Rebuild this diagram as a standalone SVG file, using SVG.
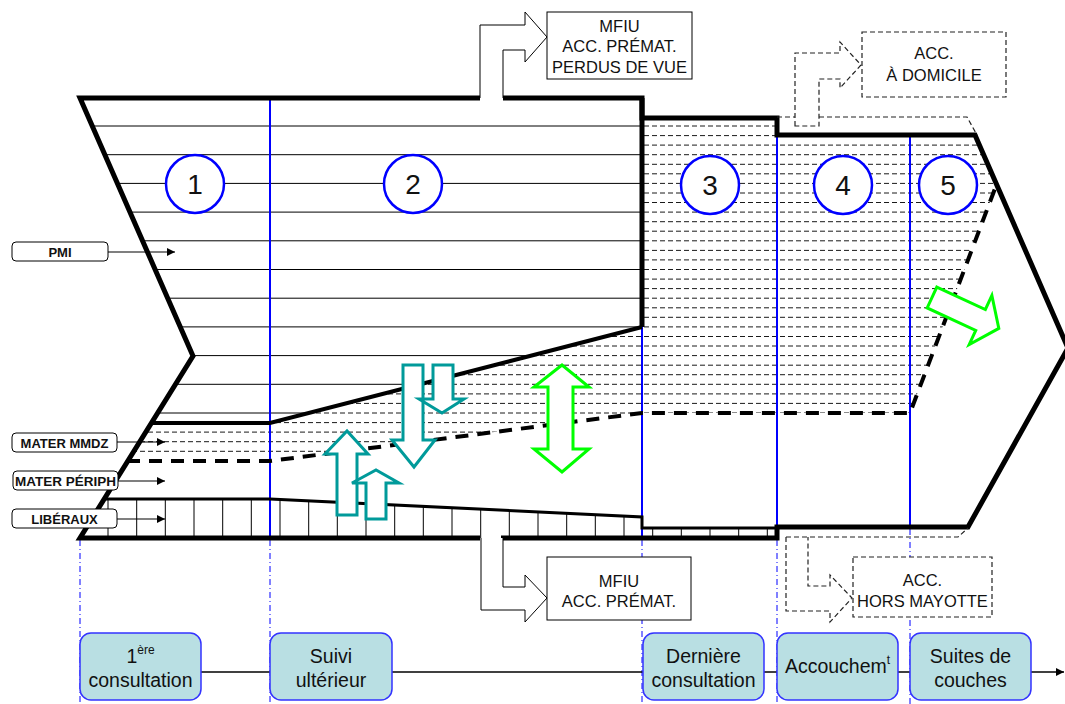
<svg xmlns="http://www.w3.org/2000/svg" width="1065" height="704" viewBox="0 0 1065 704">
<style>
text{font-family:"Liberation Sans",Arial,sans-serif;fill:#111}
.hs{stroke:#000;stroke-width:1}
.hd{stroke:#1a1a1a;stroke-width:1;stroke-dasharray:5,3}
.thick{fill:none;stroke:#000;stroke-width:5;stroke-linejoin:miter}
.blue{stroke:#0000ff;stroke-width:2}
.bdd{stroke:#0000ff;stroke-width:1;stroke-dasharray:6,3,1,3}
.circ{fill:#fff;stroke:#0000ff;stroke-width:2.5}
.num{font-size:28px;text-anchor:middle}
.lab{fill:#fff;stroke:#000;stroke-width:1}
.labt{font-size:13px;font-weight:bold;text-anchor:middle}
.teal{fill:#fff;stroke:#009a9a;stroke-width:3}
.green{fill:#fff;stroke:#00ff00;stroke-width:3}
.box{fill:#fff;stroke:#000;stroke-width:1}
.dbox{fill:#fff;stroke:#222;stroke-width:1.2;stroke-dasharray:5,3}
.dline{fill:none;stroke:#222;stroke-width:1.2;stroke-dasharray:5,3}
.bt{font-size:16.5px;text-anchor:middle}
.phase{fill:#b9dfe3;stroke:#3333ff;stroke-width:1.5}
.pt{font-size:19.5px;text-anchor:middle}
</style>
<defs>
<clipPath id="zA"><polygon points="80,98 642,98 642,327 270,423 151,423 193,356"/></clipPath>
<clipPath id="zB"><polygon points="151,423 270,423 642,327 642,118 777,118 777,135 975,135 996,186 910,413 642,413 270,461 127,461"/></clipPath>
<clipPath id="zC"><polygon points="104,499 270,499 642,517 642,528 777,528 777,538 80,538"/></clipPath>
<marker id="ah" viewBox="0 0 10 10" refX="10" refY="5" markerWidth="9" markerHeight="8" markerUnits="userSpaceOnUse" orient="auto"><path d="M0,0 L10,5 L0,10 Z" fill="#000"/></marker>
</defs>

<g id="hatching">
<g clip-path="url(#zA)" class="hs">
<line x1="60" x2="650" y1="126" y2="126"/><line x1="60" x2="650" y1="154.7" y2="154.7"/><line x1="60" x2="650" y1="183.4" y2="183.4"/><line x1="60" x2="650" y1="212.1" y2="212.1"/><line x1="60" x2="650" y1="240.8" y2="240.8"/><line x1="60" x2="650" y1="269.5" y2="269.5"/><line x1="60" x2="650" y1="298.2" y2="298.2"/><line x1="60" x2="650" y1="326.9" y2="326.9"/><line x1="60" x2="650" y1="355.6" y2="355.6"/><line x1="60" x2="650" y1="384.3" y2="384.3"/><line x1="60" x2="650" y1="413" y2="413"/>
</g>
<g clip-path="url(#zB)" class="hd">
<line x1="100" x2="1010" y1="126" y2="126"/><line x1="100" x2="1010" y1="135.6" y2="135.6"/><line x1="100" x2="1010" y1="145.1" y2="145.1"/><line x1="100" x2="1010" y1="154.7" y2="154.7"/><line x1="100" x2="1010" y1="164.3" y2="164.3"/><line x1="100" x2="1010" y1="173.8" y2="173.8"/><line x1="100" x2="1010" y1="183.4" y2="183.4"/><line x1="100" x2="1010" y1="193" y2="193"/><line x1="100" x2="1010" y1="202.5" y2="202.5"/><line x1="100" x2="1010" y1="212.1" y2="212.1"/><line x1="100" x2="1010" y1="221.7" y2="221.7"/><line x1="100" x2="1010" y1="231.2" y2="231.2"/><line x1="100" x2="1010" y1="240.8" y2="240.8"/><line x1="100" x2="1010" y1="250.4" y2="250.4"/><line x1="100" x2="1010" y1="259.9" y2="259.9"/><line x1="100" x2="1010" y1="269.5" y2="269.5"/><line x1="100" x2="1010" y1="279.1" y2="279.1"/><line x1="100" x2="1010" y1="288.6" y2="288.6"/><line x1="100" x2="1010" y1="298.2" y2="298.2"/><line x1="100" x2="1010" y1="307.8" y2="307.8"/><line x1="100" x2="1010" y1="317.3" y2="317.3"/><line x1="100" x2="1010" y1="326.9" y2="326.9"/><line x1="100" x2="1010" y1="336.5" y2="336.5"/><line x1="100" x2="1010" y1="346" y2="346"/><line x1="100" x2="1010" y1="355.6" y2="355.6"/><line x1="100" x2="1010" y1="365.2" y2="365.2"/><line x1="100" x2="1010" y1="374.7" y2="374.7"/><line x1="100" x2="1010" y1="384.3" y2="384.3"/><line x1="100" x2="1010" y1="393.9" y2="393.9"/><line x1="100" x2="1010" y1="403.4" y2="403.4"/><line x1="100" x2="1010" y1="413" y2="413"/><line x1="100" x2="1010" y1="422.6" y2="422.6"/><line x1="100" x2="1010" y1="432.1" y2="432.1"/><line x1="100" x2="1010" y1="441.7" y2="441.7"/><line x1="100" x2="1010" y1="451.3" y2="451.3"/>
</g>
<g clip-path="url(#zC)" class="hs">
<line x1="108" x2="108" y1="490" y2="545"/><line x1="136.7" x2="136.7" y1="490" y2="545"/><line x1="165.3" x2="165.3" y1="490" y2="545"/><line x1="194" x2="194" y1="490" y2="545"/><line x1="222.7" x2="222.7" y1="490" y2="545"/><line x1="251.3" x2="251.3" y1="490" y2="545"/><line x1="280" x2="280" y1="490" y2="545"/><line x1="308.7" x2="308.7" y1="490" y2="545"/><line x1="337.3" x2="337.3" y1="490" y2="545"/><line x1="366" x2="366" y1="490" y2="545"/><line x1="394.7" x2="394.7" y1="490" y2="545"/><line x1="423.3" x2="423.3" y1="490" y2="545"/><line x1="452" x2="452" y1="490" y2="545"/><line x1="480.7" x2="480.7" y1="490" y2="545"/><line x1="509.3" x2="509.3" y1="490" y2="545"/><line x1="538" x2="538" y1="490" y2="545"/><line x1="566.7" x2="566.7" y1="490" y2="545"/><line x1="595.3" x2="595.3" y1="490" y2="545"/><line x1="624" x2="624" y1="490" y2="545"/><line x1="652.7" x2="652.7" y1="490" y2="545"/><line x1="681.3" x2="681.3" y1="490" y2="545"/><line x1="710" x2="710" y1="490" y2="545"/><line x1="738.7" x2="738.7" y1="490" y2="545"/><line x1="767.3" x2="767.3" y1="490" y2="545"/>
</g>
</g>

<g id="phase-lines">
<line class="blue" x1="270" y1="98" x2="270" y2="538"/>
<line class="blue" x1="642" y1="98" x2="642" y2="538"/>
<line class="blue" x1="777" y1="118" x2="777" y2="538"/>
<line class="blue" x1="910" y1="135" x2="910" y2="527"/>
<line class="bdd" x1="80" y1="540" x2="80" y2="704"/>
<line class="bdd" x1="270" y1="540" x2="270" y2="704"/>
<line class="bdd" x1="642" y1="540" x2="642" y2="704"/>
<line class="bdd" x1="777" y1="540" x2="777" y2="704"/>
<line class="bdd" x1="910" y1="529" x2="910" y2="704"/>
</g>

<g id="outline">
<path class="thick" d="M480,98 H80 L193,356 L80,538 H480"/>
<path class="thick" d="M503,98 H642 V118 H777 V135 H975 L1068,348 L968,527 H777 V538 H501"/>
<path class="thick" d="M642,98 V327"/>
<path fill="none" stroke="#000" stroke-width="4" d="M151,423 H270 L642,327"/>
<path fill="none" stroke="#000" stroke-width="4" stroke-dasharray="13,9" d="M127,461 H270 L642,413 H910 L996,186"/>
<path fill="none" stroke="#000" stroke-width="3" d="M104,499 H270 L642,517 V528 H777"/>
</g>

<g id="zone-numbers">
<g id="n1"><circle class="circ" cx="195" cy="184" r="29"/><text class="num" x="195" y="194">1</text></g>
<g id="n2"><circle class="circ" cx="413" cy="184" r="29"/><text class="num" x="413" y="194">2</text></g>
<g id="n3"><circle class="circ" cx="710" cy="185" r="29"/><text class="num" x="710" y="195">3</text></g>
<g id="n4"><circle class="circ" cx="843" cy="185" r="29"/><text class="num" x="843" y="195">4</text></g>
<g id="n5"><circle class="circ" cx="948" cy="185" r="29"/><text class="num" x="948" y="195">5</text></g>
</g>

<g id="flow-arrows">
<path class="teal" d="M403,365 H423 V440 H435 L414,467 L392,440 H403 Z"/>
<path class="teal" d="M433,365 H453 V399 H464 L442,413 L419,399 H433 Z"/>
<path class="teal" d="M337,515 V454 H325 L347,431 L368,454 H357 V515 Z"/>
<path class="teal" d="M366,519 V483 H352 L376,470 L399,483 H386 V519 Z"/>
<path class="green" d="M562,365 L589,387 H573 V449 H589 L562,472 L534,449 H548 V387 H534 Z"/>
<path class="green" transform="translate(932,297.5) rotate(24.8)" d="M0,-11.5 H53.5 V-27 L73.6,0 L53.5,27 V11.5 H0 Z"/>
</g>

<g id="actor-labels">
<g id="pmi"><rect class="lab" x="12" y="242" width="96" height="19" rx="4"/><text class="labt" x="60" y="256.5">PMI</text><line x1="108" y1="252" x2="175" y2="252" stroke="#000" stroke-width="1.2" marker-end="url(#ah)"/></g>
<g id="mmdz"><rect class="lab" x="12" y="433" width="105" height="19" rx="4"/><text class="labt" x="64.5" y="447.5">MATER MMDZ</text><line x1="117" y1="442" x2="165" y2="442" stroke="#000" stroke-width="1.2" marker-end="url(#ah)"/></g>
<g id="periph"><rect class="lab" x="13" y="471" width="105" height="19" rx="4"/><text class="labt" x="65.5" y="485.5" textLength="101" lengthAdjust="spacingAndGlyphs">MATER PÉRIPH</text><line x1="118" y1="481" x2="165" y2="481" stroke="#000" stroke-width="1.2" marker-end="url(#ah)"/></g>
<g id="liberaux"><rect class="lab" x="12" y="509" width="105" height="19" rx="4"/><text class="labt" x="64.5" y="523.5">LIBÉRAUX</text><line x1="117" y1="519" x2="165" y2="519" stroke="#000" stroke-width="1.2" marker-end="url(#ah)"/></g>
</g>

<g id="exits">
<g id="mfiu-top">
<path fill="#fff" stroke="#000" stroke-width="1" d="M480,98 V25 H525 V12 L547,37 L525,62 V50 H503 V98"/>
<rect class="box" x="547" y="12" width="145" height="67"/>
<text class="bt" x="619.5" y="32">MFIU</text><text class="bt" x="619.5" y="52">ACC. PRÉMAT.</text><text class="bt" x="619.5" y="73">PERDUS DE VUE</text>
</g>
<g id="mfiu-bottom">
<path fill="#fff" stroke="#000" stroke-width="1" d="M503,538 V587 H525 V575 L547,598 L525,622 V610 H481 V538"/>
<rect class="box" x="547" y="557" width="144" height="63"/>
<text class="bt" x="619" y="587">MFIU</text><text class="bt" x="619" y="607">ACC. PRÉMAT.</text>
</g>
<g id="domicile">
<path class="dline" d="M777,117 H795 M819,117 H967 L977,135"/>
<path class="dline" d="M795,126 V53 H840 V42 L861,65 L840,88 V79 H819 V126 Z"/>
<rect class="dbox" x="862" y="32" width="144" height="65"/>
<text class="bt" x="934" y="59">ACC.</text><text class="bt" x="934" y="81">À DOMICILE</text>
</g>
<g id="mayotte">
<path class="dline" d="M786,537 H958 L968,528"/>
<path class="dline" d="M786,537 V611 H830 V622 L852,598 L830,575 V586 H808 V537"/>
<rect class="dbox" x="853" y="557" width="139" height="60"/>
<text class="bt" x="922.5" y="586">ACC.</text><text class="bt" x="922.5" y="607">HORS MAYOTTE</text>
</g>
</g>

<g id="timeline">
<line x1="80" y1="672" x2="1064" y2="672" stroke="#000" stroke-width="1.5" marker-end="url(#ah)"/>
<g id="p1"><rect class="phase" x="80" y="633" width="121" height="67" rx="11"/><text class="pt" x="140.5" y="663">1<tspan font-size="12" dy="-9">ère</tspan></text><text class="pt" x="140.5" y="687">consultation</text></g>
<g id="p2"><rect class="phase" x="270" y="633" width="122" height="67" rx="11"/><text class="pt" x="331" y="663">Suivi</text><text class="pt" x="331" y="687">ultérieur</text></g>
<g id="p3"><rect class="phase" x="643" y="633" width="121" height="67" rx="11"/><text class="pt" x="703.5" y="663">Dernière</text><text class="pt" x="703.5" y="687">consultation</text></g>
<g id="p4"><rect class="phase" x="777" y="633" width="121" height="67" rx="11"/><text class="pt" x="837.5" y="673">Accouchem<tspan font-size="12" dy="-9">t</tspan></text></g>
<g id="p5"><rect class="phase" x="910" y="633" width="121" height="67" rx="11"/><text class="pt" x="970.5" y="663">Suites de</text><text class="pt" x="970.5" y="687">couches</text></g>
</g>
</svg>
